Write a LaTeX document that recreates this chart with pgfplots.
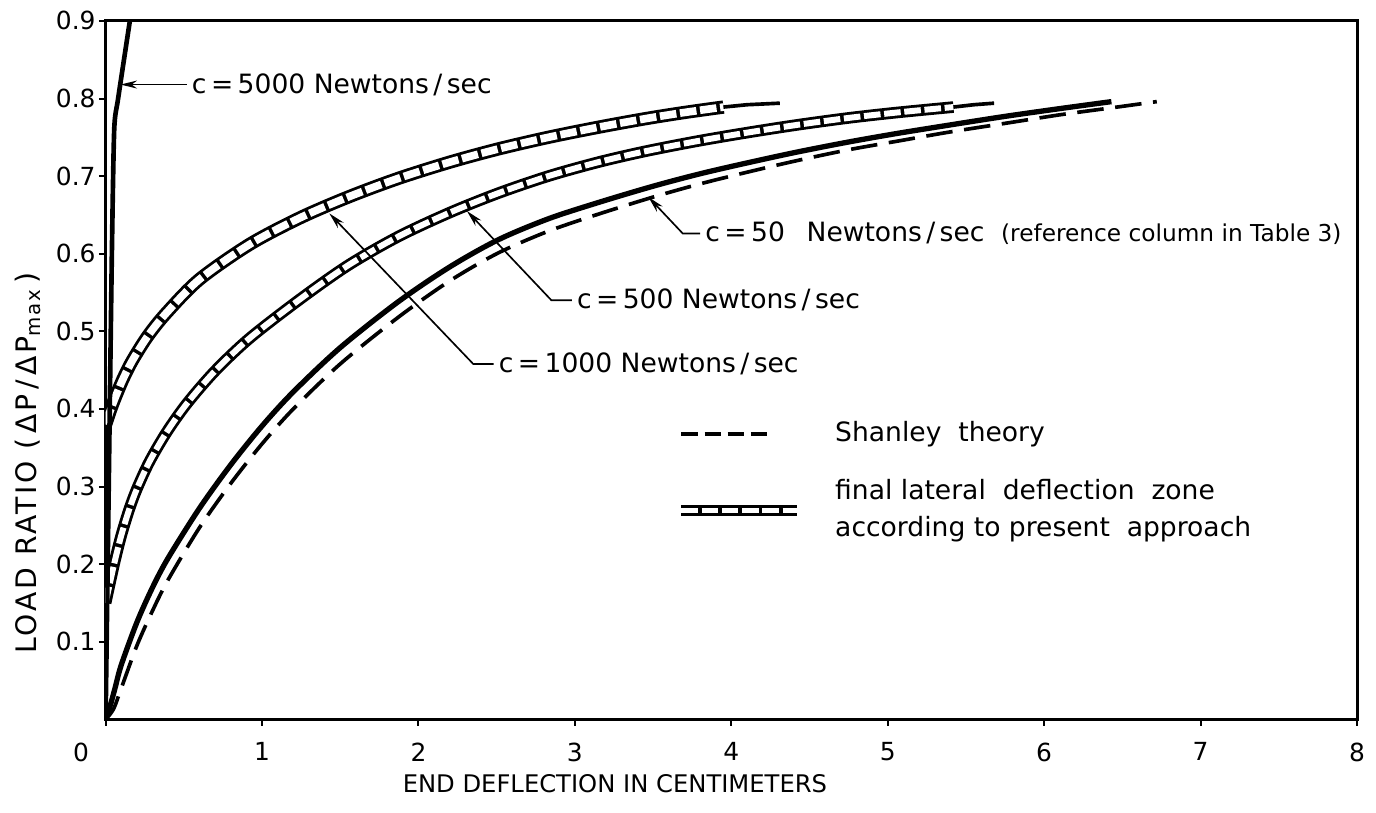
\documentclass[border=0pt]{standalone}
\usepackage{pgfplots}
\pgfplotsset{compat=1.18}
\usepackage{pgfplotstable}
\usepackage{fontspec}
\setmainfont{DejaVu Sans}
\usetikzlibrary{arrows.meta}

% c = 1000 N/s, centre of the hatched zone
\pgfplotstableread{
x y
0.000 0.380
0.030 0.398
0.060 0.414
0.110 0.438
0.170 0.462
0.270 0.494
0.390 0.524
0.600 0.567
0.920 0.612
1.240 0.646
1.550 0.673
1.870 0.697
2.200 0.718
2.510 0.735
2.830 0.750
3.150 0.763
3.450 0.774
3.700 0.782
3.950 0.789
}\cthousand
\pgfplotstableread{
x y
3.950 0.789
4.100 0.792
4.310 0.794
}\cthousandtail

% c = 500 N/s
\pgfplotstableread{
x y
0.000 0.150
0.030 0.178
0.060 0.205
0.100 0.237
0.150 0.270
0.200 0.297
0.280 0.332
0.390 0.370
0.520 0.407
0.700 0.449
0.920 0.491
1.240 0.541
1.550 0.585
1.870 0.622
2.200 0.653
2.510 0.678
2.830 0.700
3.150 0.718
3.450 0.732
3.780 0.745
4.100 0.756
4.420 0.766
4.750 0.775
5.060 0.782
5.420 0.789
}\cfivehundred
\pgfplotstableread{
x y
5.420 0.789
5.550 0.792
5.680 0.794
}\cfivehundredtail

% c = 50 N/s (reference column)
\pgfplotstableread{
x y
0.000 0.000
0.030 0.018
0.060 0.040
0.100 0.070
0.200 0.125
0.300 0.170
0.400 0.208
0.600 0.272
0.800 0.328
1.000 0.378
1.200 0.422
1.500 0.479
1.870 0.538
2.200 0.583
2.510 0.618
2.830 0.645
3.150 0.666
3.500 0.687
3.800 0.703
4.100 0.717
4.420 0.731
4.750 0.744
5.060 0.755
5.400 0.766
5.750 0.777
6.100 0.787
6.430 0.796
}\cfifty

% Shanley theory
\pgfplotstableread{
x y
0.000 0.000
0.050 0.013
0.100 0.040
0.200 0.095
0.300 0.140
0.400 0.180
0.600 0.247
0.800 0.304
1.000 0.355
1.200 0.400
1.500 0.458
1.870 0.518
2.200 0.565
2.510 0.601
2.830 0.629
3.150 0.651
3.500 0.673
3.800 0.690
4.100 0.705
4.420 0.720
4.750 0.734
5.060 0.745
5.400 0.757
5.750 0.768
6.100 0.779
6.430 0.788
6.720 0.796
}\shanley

% c = 5000 N/s
\pgfplotstableread{
x y
0.000 0.000
0.020 0.300
0.040 0.600
0.055 0.760
0.080 0.800
0.155 0.900
0.165 0.915
}\cfivethousand

\begin{document}
\begin{tikzpicture}[
  lbl/.style={font=\fontsize{8}{9.6}\selectfont, inner sep=0pt},
  lead/.style={line width=0.5pt, {Stealth[length=5pt,width=2.4pt]}-},
  zone/.style={black, line width=4pt},
  zonegap/.style={white, line width=2.3pt, dash pattern=on 5pt off 1.1pt},
  shan/.style={black, line width=1.1pt, dash pattern=on 8pt off 3.5pt},
]
\begin{axis}[
  scale only axis,
  width=376.8pt, height=210.3pt,
  xmin=0, xmax=8, ymin=0, ymax=0.9,
  xtick={0,1,2,3,4,5,6,7,8},
  xticklabels={\llap{0\hspace{5pt}},1,2,3,4,5,6,7,8},
  ytick={0.1,0.2,0.3,0.4,0.5,0.6,0.7,0.8,0.9},
  yticklabel style={xshift=2.5pt, /pgf/number format/.cd, fixed, fixed zerofill, precision=1},
  xticklabel style={yshift=-1.5pt},
  /pgf/number format/assume math mode=true,
  ticklabel style={font=\fontsize{7.5}{9}\selectfont},
  xtick pos=bottom, ytick pos=left,
  tick align=outside, major tick length=2pt,
  tick style={black, line width=0.6pt},
  axis line style={line width=0.9pt},
  xlabel={END DEFLECTION IN CENTIMETERS},
  ylabel={\addfontfeature{LetterSpace=10}LOAD RATIO (\,ΔP\,/\,ΔP\textsubscript{max}\,)},
  xlabel style={font=\fontsize{7.3}{9}\selectfont, at={(axis description cs:0.407,-0.092)}, anchor=center},
  ylabel style={font=\fontsize{8.5}{10}\selectfont, at={(axis description cs:-0.062,0.093)}, anchor=west, inner sep=0pt},
]
% hatched zones
\addplot[zone, smooth, tension=0.5] table {\cthousand};
\addplot[zonegap, smooth, tension=0.5] table {\cthousand};
\addplot[black, line width=1.1pt] table {\cthousandtail};
\addplot[zone, line width=3.5pt, smooth, tension=0.5] table {\cfivehundred};
\addplot[zonegap, line width=1.8pt, smooth, tension=0.5] table {\cfivehundred};
\addplot[black, line width=1.1pt] table {\cfivehundredtail};
% reference column and theory
\addplot[black, line width=1.6pt, smooth, tension=0.5] table {\cfifty};
\addplot[shan, smooth, tension=0.5] table {\shanley};
\addplot[black, line width=1.4pt, smooth, tension=0.4] table {\cfivethousand};

% leaders and labels
\draw[lead] (axis cs:0.095,0.818) -- (axis cs:0.52,0.818);
\node[lbl, anchor=west] at (axis cs:0.548,0.818) {c\,=\,5000 Newtons\,/\,sec};

\draw[lead] (axis cs:3.47,0.673) -- (axis cs:3.69,0.626) -- (axis cs:3.80,0.626);
\node[lbl, anchor=west] at (axis cs:3.83,0.626) {c\,=\,50\hspace{4pt} Newtons\,/\,sec\hspace{5pt}{\fontsize{7}{8}\selectfont (reference column in Table 3)}};

\draw[lead] (axis cs:2.31,0.655) -- (axis cs:2.85,0.540) -- (axis cs:2.98,0.540);
\node[lbl, anchor=west] at (axis cs:3.01,0.540) {c\,=\,500 Newtons\,/\,sec};

\draw[lead] (axis cs:1.43,0.652) -- (axis cs:2.35,0.458) -- (axis cs:2.48,0.458);
\node[lbl, anchor=west] at (axis cs:2.51,0.458) {c\,=\,1000 Newtons\,/\,sec};

% legend
\draw[black, line width=1.1pt, dash pattern=on 5pt off 2pt] (axis cs:3.68,0.368) -- (axis cs:4.23,0.368);
\node[lbl, anchor=west] at (axis cs:4.66,0.368) {Shanley\ \ theory};
\draw[zone, line width=3.2pt] (axis cs:3.68,0.269) -- (axis cs:4.42,0.269);
\draw[zonegap, line width=1.6pt] (axis cs:3.68,0.269) -- (axis cs:4.42,0.269);
\node[lbl, anchor=west, align=left] at (axis cs:4.66,0.269)
  {final lateral\ \ deflection\ \ zone\\[1.5pt] according to present\ \ approach};
\end{axis}
\path ([xshift=-31.8pt,yshift=-28.2pt]current axis.south west)
  rectangle ([xshift=4.2pt,yshift=6.3pt]current axis.north east);
\end{tikzpicture}
\end{document}
